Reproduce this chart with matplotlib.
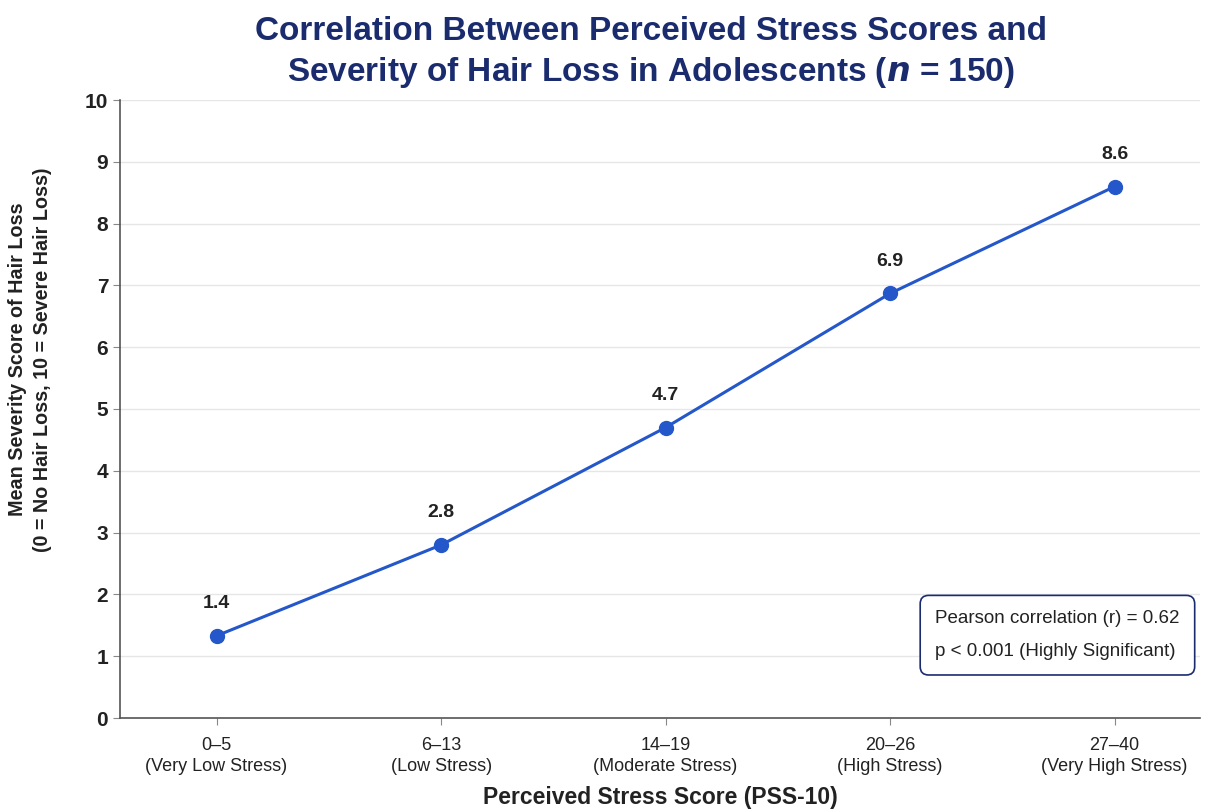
import matplotlib
matplotlib.use("Agg")
import matplotlib.pyplot as plt

plt.rcParams['font.family'] = ['Liberation Sans', 'DejaVu Sans']

categories = ["0–5\n(Very Low Stress)", "6–13\n(Low Stress)", "14–19\n(Moderate Stress)",
              "20–26\n(High Stress)", "27–40\n(Very High Stress)"]
values = [1.33, 2.8, 4.7, 6.87, 8.6]
value_labels = ["1.4", "2.8", "4.7", "6.9", "8.6"]
yticks = list(range(0, 11))

fig = plt.figure(figsize=(12.09, 8.10), dpi=100)
ax = fig.add_axes([120/1209, 1 - 718/810, (1200-120)/1209, (718-100)/810])

x = list(range(len(categories)))
ax.plot(x, values, color='#2457c9', lw=2.2, marker='o', ms=10, zorder=3)
for xi, v, lab in zip(x, values, value_labels):
    ax.annotate(lab, (xi, v), xytext=(0, 17), textcoords='offset points',
                ha='center', va='bottom', fontsize=14, fontweight='bold', color='#222222')

ax.set_xlim(-0.43, 4.38)
ax.set_ylim(0, 10)
ax.set_yticks(yticks)
ax.set_yticklabels([str(t) for t in yticks], fontsize=15, fontweight='bold', color='#222222')
ax.set_xticks(x)
ax.set_xticklabels(categories, fontsize=13, color='#222222', linespacing=1.25)
ax.grid(axis='y', color='#e6e6e6', lw=1)
ax.set_axisbelow(True)
for s in ['top', 'right']:
    ax.spines[s].set_visible(False)
for s in ['left', 'bottom']:
    ax.spines[s].set_color('#555555')
    ax.spines[s].set_linewidth(1.2)
ax.tick_params(axis='both', direction='out', length=5, color='#888888')
ax.tick_params(axis='x', pad=9)

ax.set_xlabel("Perceived Stress Score (PSS-10)", fontsize=16.5, fontweight='bold', color='#222222', labelpad=8)
ax.set_ylabel("Mean Severity Score of Hair Loss\n(0 = No Hair Loss, 10 = Severe Hair Loss)",
              fontsize=14.2, fontweight='bold', color='#222222', linespacing=1.4)
ax.yaxis.set_label_coords(-0.063, 0.58)

fig.text(651/1209, 1 - 53/810, "Correlation Between Perceived Stress Scores and\nSeverity of Hair Loss in Adolescents ($\\bfit{n}$ = 150)",
         ha='center', va='center', fontsize=24, fontweight='bold', color='#1a2c6e', linespacing=1.3)

ax.text(0.868, 0.134, "Pearson correlation (r) = 0.62\np < 0.001 (Highly Significant)",
        transform=ax.transAxes, ha='center', va='center', multialignment='left',
        fontsize=13.5, color='#222222', linespacing=2.2,
        bbox=dict(boxstyle='round,pad=0.8,rounding_size=0.45', fc='white', ec='#1a2c6e', lw=1.2))

fig.savefig("out.png", dpi=100)
